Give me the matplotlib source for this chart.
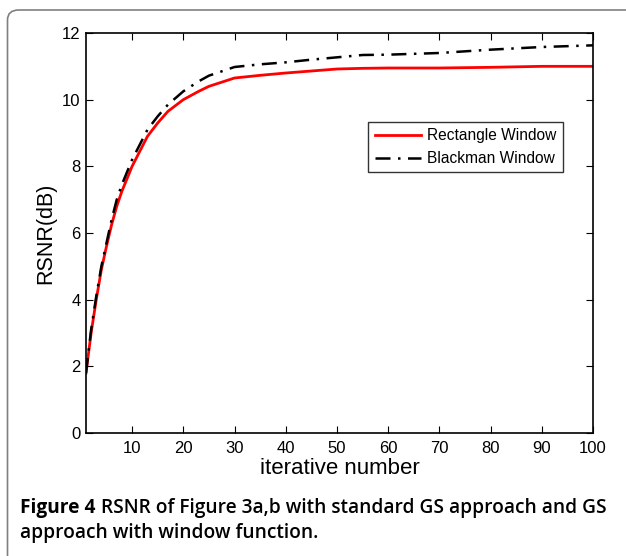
import numpy as np
import matplotlib.pyplot as plt
from matplotlib.patches import FancyBboxPatch

# values
iterations = [1, 2, 3, 4, 5, 6, 7, 8, 10, 12, 13, 15, 17, 20, 23, 25, 30, 35, 40, 45, 50, 55, 60, 70, 80, 90, 100]
rsnr_rect = [1.8, 3.0, 4.0, 4.9, 5.6, 6.25, 6.8, 7.25, 8.0, 8.6, 8.9, 9.3, 9.65, 10.0, 10.25, 10.4, 10.65, 10.73, 10.8, 10.86, 10.92, 10.94, 10.95, 10.95, 10.97, 11.0, 11.0]
rsnr_black = [1.8, 3.1, 4.1, 5.0, 5.7, 6.4, 7.0, 7.45, 8.2, 8.8, 9.1, 9.5, 9.85, 10.25, 10.55, 10.72, 10.98, 11.06, 11.12, 11.2, 11.27, 11.34, 11.35, 11.4, 11.5, 11.58, 11.63]

x_ticks = [10, 20, 30, 40, 50, 60, 70, 80, 90, 100]
y_ticks = [0, 2, 4, 6, 8, 10, 12]

plt.rcParams['font.family'] = ['Liberation Sans', 'DejaVu Sans']

W, H = 626, 556
fig = plt.figure(figsize=(W / 100, H / 100), dpi=100)

# rounded frame round the figure, right and bottom edges run off the page
frame = FancyBboxPatch((7.5 / W, -0.05), 1.2, 1.0 - 10 / H + 0.05,
                       boxstyle="round,pad=0,rounding_size=0.018",
                       transform=fig.transFigure, fill=False,
                       edgecolor='#808080', linewidth=1.2, clip_on=False)
fig.patches.append(frame)

ax = fig.add_axes([86 / W, 1 - 433 / H, (593 - 86) / W, (433 - 33) / H])
ax.plot(iterations, rsnr_rect, color='red', linewidth=2, label='Rectangle Window')
ax.plot(iterations, rsnr_black, color='black', linewidth=1.8,
        linestyle=(0, (6, 3, 1, 3)), label='Blackman Window')

ax.set_xlim(1, 100)
ax.set_ylim(0, 12)
ax.set_xticks(x_ticks)
ax.set_yticks(y_ticks)
ax.tick_params(direction='in', top=True, right=True, length=5, labelsize=12)
ax.tick_params(axis='x', pad=6)
ax.tick_params(axis='y', pad=4)
for s in ax.spines.values():
    s.set_linewidth(1.2)

ax.set_xlabel('iterative number', fontsize=16, labelpad=1)
ax.set_ylabel('RSNR(dB)', fontsize=15.5, labelpad=4)

leg = ax.legend(loc='upper right', bbox_to_anchor=(0.941, 0.7775), fontsize=11.2,
                frameon=True, fancybox=False, edgecolor='black', borderaxespad=0,
                handlelength=3.0, handletextpad=0.4, borderpad=0.4, labelspacing=0.5)
leg.get_frame().set_linewidth(1.0)

cap_font = ['Open Sans', 'DejaVu Sans']
t1 = fig.text(20 / W, 1 - 513 / H, 'Figure 4', fontsize=13.75, fontweight='bold',
              family=cap_font, va='baseline')
ax.annotate('RSNR of Figure 3a,b with standard GS approach and GS',
            xy=(1, 0), xycoords=t1, xytext=(4, 0), textcoords='offset points',
            va='bottom', ha='left', fontsize=13.75, fontweight='semibold',
            family=cap_font, annotation_clip=False)
fig.text(20 / W, 1 - 538 / H, 'approach with window function.', fontsize=13.75,
         fontweight='semibold', family=cap_font, va='baseline')

fig.savefig('out.png', dpi=100)
